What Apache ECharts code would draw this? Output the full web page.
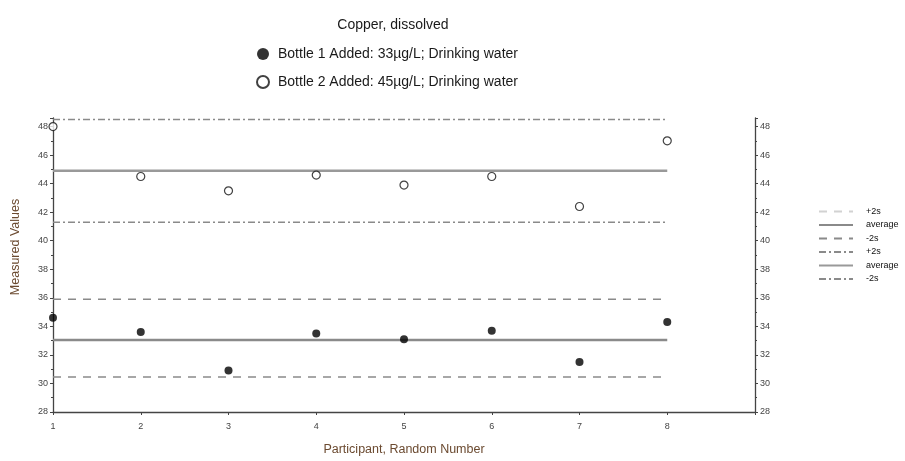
<!DOCTYPE html>
<html>
<head>
<meta charset="utf-8">
<script src="https://cdn.jsdelivr.net/npm/echarts@6/dist/echarts.min.js"></script>
<style>html,body{margin:0;padding:0;background:#fff}#c{width:905px;height:461px}</style>
</head>
<body>
<div id="c"></div>
<script>
const participants = [1, 2, 3, 4, 5, 6, 7, 8];
const bottle1 = [34.6, 33.6, 30.9, 33.5, 33.1, 33.7, 31.5, 34.3];
const bottle2 = [48.0, 44.5, 43.5, 44.6, 43.9, 44.5, 42.4, 47.0];
const b1Limits = { plus2s: 35.9, average: 33.05, minus2s: 30.45 };
const b2Limits = { plus2s: 48.5, average: 44.9, minus2s: 41.3 };
const lineStart = 1, lineEnd = 8;
const yTicks = [28, 30, 32, 34, 36, 38, 40, 42, 44, 46, 48];
const xTicks = [1, 2, 3, 4, 5, 6, 7, 8];
const name1 = 'Bottle 1 Added: 33µg/L; Drinking water';
const name2 = 'Bottle 2 Added: 45µg/L; Drinking water';

const font = '"Liberation Sans", Arial, sans-serif';
const pts = vals => participants.map((p, i) => [p, vals[i]]);
const hline = v => [[lineStart, v], [lineEnd, v]];

function limitSeries(name, v, type, width, color) {
  return {
    name: name, type: 'line', data: hline(v), symbol: 'none', silent: true, z: 1,
    lineStyle: { color: color, width: width, type: type },
    itemStyle: { color: color }
  };
}
const dashed = [8, 7];
const dashDot = [7, 3, 2, 3];

const chart = echarts.init(document.getElementById('c'));
chart.setOption({
  animation: false,
  textStyle: { fontFamily: font },
  title: {
    text: 'Copper, dissolved', left: 388, top: 13, textAlign: 'center',
    textStyle: { fontSize: 14, fontWeight: 'normal', color: '#1a1a1a', fontFamily: font }
  },
  legend: [{
    data: [name1, name2], orient: 'vertical', left: 251, top: 42,
    itemWidth: 12, itemHeight: 12, itemGap: 14,
    textStyle: { fontSize: 14, color: '#1a1a1a', fontFamily: font, padding: [0, 0, 0, 4] }
  }, {
    data: [
      { name: '+2s', lineStyle: { color: '#d2d2d2' } }, 'average', '-2s',
      '+2s ', 'average ', '-2s '
    ],
    orient: 'vertical', left: 813, top: 202,
    itemWidth: 34, itemHeight: 8, itemGap: 4.5,
    itemStyle: { color: 'rgba(0,0,0,0)', borderWidth: 0, opacity: 0 },
    textStyle: { fontSize: 9, color: '#111', fontFamily: font, padding: [0, 0, 0, 8] }
  }],
  grid: { left: 53, right: 150, top: 118, bottom: 48, containLabel: false },
  xAxis: {
    type: 'value', min: 1, max: 9, interval: 1,
    name: 'Participant, Random Number', nameLocation: 'middle', nameGap: 31,
    nameTextStyle: { fontSize: 12.5, color: '#6b4a30', fontFamily: font },
    axisLine: { lineStyle: { color: '#444', width: 1.3 } },
    axisTick: { length: 3, lineStyle: { color: '#444' } },
    axisLabel: { fontSize: 9, color: '#444', margin: 10,
      formatter: v => xTicks.indexOf(v) >= 0 ? String(v) : '' },
    splitLine: { show: false }
  },
  yAxis: [{
    type: 'value', min: 28, max: 48.6, interval: 2, position: 'left',
    name: 'Measured Values', nameLocation: 'middle', nameGap: 31,
    nameTextStyle: { fontSize: 12.5, color: '#6b4a30', fontFamily: font, padding: [0, 0, 0, 36] },
    axisLine: { show: true, lineStyle: { color: '#444', width: 1.3 } },
    axisTick: { show: true, length: 3, lineStyle: { color: '#444' } },
    minorTick: { show: true, splitNumber: 2, length: 2, lineStyle: { color: '#444' } },
    axisLabel: { fontSize: 9, color: '#444', margin: 5,
      formatter: v => yTicks.indexOf(v) >= 0 ? String(v) : '' },
    splitLine: { show: false }
  }, {
    type: 'value', min: 28, max: 48.6, interval: 2, position: 'right',
    axisLine: { show: true, lineStyle: { color: '#444', width: 1.3 } },
    axisTick: { show: true, length: 3, lineStyle: { color: '#444' } },
    minorTick: { show: true, splitNumber: 2, length: 2, lineStyle: { color: '#444' } },
    axisLabel: { fontSize: 9, color: '#444', margin: 5,
      formatter: v => yTicks.indexOf(v) >= 0 ? String(v) : '' },
    splitLine: { show: false }
  }],
  series: [
    limitSeries('+2s', b1Limits.plus2s, dashed, 1.5, '#8a8a8a'),
    limitSeries('average', b1Limits.average, 'solid', 2.5, '#8a8a8a'),
    limitSeries('-2s', b1Limits.minus2s, dashed, 1.5, '#8a8a8a'),
    limitSeries('+2s ', b2Limits.plus2s, dashDot, 1.5, '#8a8a8a'),
    limitSeries('average ', b2Limits.average, 'solid', 2.5, '#999999'),
    limitSeries('-2s ', b2Limits.minus2s, dashDot, 1.5, '#8a8a8a'),
    {
      name: name1, type: 'scatter', data: pts(bottle1), symbol: 'circle', symbolSize: 8, z: 5,
      itemStyle: { color: '#000' }
    },
    {
      name: name2, type: 'scatter', data: pts(bottle2), symbol: 'circle', symbolSize: 8, z: 5,
      itemStyle: { color: '#fff', borderColor: '#111', borderWidth: 1.2 }
    }
  ]
});
</script>
</body>
</html>
